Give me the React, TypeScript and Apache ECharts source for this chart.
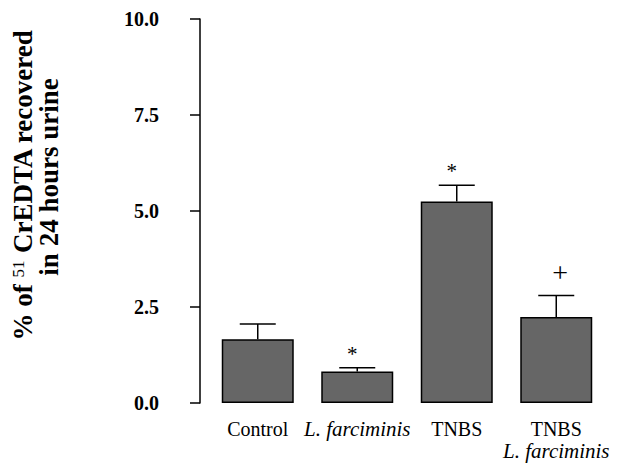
import React, { useEffect, useRef } from "react";
import * as echarts from "echarts";

const categories = ["Control", "L. farciminis", "TNBS", "TNBS\nL. farciminis"];
const means = [1.66, 0.82, 5.25, 2.24];
const errors = [0.4, 0.1, 0.42, 0.56];
const marks = ["", "*", "*", "+"];
const yTicks = [0, 2.5, 5, 7.5, 10];

const SERIF = "Liberation Serif";

export default function App() {
  const ref = useRef<HTMLDivElement>(null);
  useEffect(() => {
    document.body.style.margin = "0";
    if (!ref.current) return;
    const chart = echarts.init(ref.current, null, { renderer: "svg" });
    const errData = means.map((m, i) => [i, m, errors[i]]);
    const option: any = {
      animation: false,
      backgroundColor: "#ffffff",
      grid: { left: 208, right: 15, top: 19, bottom: 60, containLabel: false },
      xAxis: {
        type: "category",
        data: categories,
        axisLine: { show: false },
        axisTick: { show: false },
        axisLabel: {
          margin: 15,
          interval: 0,
          color: "#000",
          fontFamily: SERIF,
          fontSize: 20,
          lineHeight: 22,
          formatter: (v: string) =>
            v
              .split("\n")
              .map((line) => (line.startsWith("L.") ? `{i|${line}}` : `{n|${line}}`))
              .join("\n"),
          rich: {
            n: { fontFamily: SERIF, fontSize: 20, color: "#000", lineHeight: 22 },
            i: { fontFamily: SERIF, fontSize: 21, fontStyle: "italic", color: "#000", lineHeight: 22 },
          },
        },
      },
      yAxis: {
        type: "value",
        min: yTicks[0],
        max: yTicks[yTicks.length - 1],
        interval: 2.5,
        offset: 8,
        axisLine: { show: true, lineStyle: { color: "#000", width: 1.5 } },
        axisTick: { show: true, inside: false, length: 10, lineStyle: { color: "#000", width: 1.5 } },
        splitLine: { show: false },
        axisLabel: {
          margin: 41,
          color: "#000",
          fontFamily: SERIF,
          fontWeight: "bold",
          fontSize: 20,
          formatter: (v: number) => v.toFixed(1),
        },
      },
      series: [
        {
          type: "bar",
          data: means,
          barWidth: 72,
          itemStyle: { color: "#666666", borderColor: "#000", borderWidth: 1.5 },
          z: 2,
        },
        {
          type: "custom",
          data: errData,
          z: 3,
          renderItem: (params: any, api: any) => {
            const i = api.value(0);
            const m = api.value(1);
            const e = api.value(2);
            const base = api.coord([i, m]);
            const top = api.coord([i, m + e]);
            const cap = 18;
            const children: any[] = [
              {
                type: "line",
                shape: { x1: base[0], y1: base[1], x2: top[0], y2: top[1] },
                style: { stroke: "#000", lineWidth: 1.5 },
              },
              {
                type: "line",
                shape: { x1: top[0] - cap, y1: top[1], x2: top[0] + cap, y2: top[1] },
                style: { stroke: "#000", lineWidth: 1.5 },
              },
            ];
            const mk = marks[params.dataIndex];
            if (mk) {
              const isStar = mk === "*";
              children.push({
                type: "text",
                x: top[0] + (isStar ? -5 : 4),
                y: top[1] - (isStar ? 14 : 23),
                style: {
                  text: mk,
                  fontFamily: SERIF,
                  fontSize: isStar ? 21 : 28,
                  fill: "#000",
                  align: "center",
                  verticalAlign: "middle",
                },
              });
            }
            return { type: "group", children };
          },
        },
      ],
      graphic: [
        {
          type: "text",
          x: 23,
          y: 185,
          rotation: Math.PI / 2,
          style: {
            text: "{b|% of }{s|51}{b| CrEDTA recovered}",
            align: "center",
            verticalAlign: "middle",
            rich: {
              b: { fontFamily: SERIF, fontWeight: "bold", fontSize: 27, fill: "#000", lineHeight: 27 },
              s: { fontFamily: SERIF, fontSize: 17, fill: "#000", lineHeight: 27, verticalAlign: "top" },
            },
          },
        },
        {
          type: "text",
          x: 49,
          y: 177,
          rotation: Math.PI / 2,
          style: {
            text: "in 24 hours urine",
            fontFamily: SERIF,
            fontWeight: "bold",
            fontSize: 27,
            fill: "#000",
            align: "center",
            verticalAlign: "middle",
          },
        },
      ],
    };
    chart.setOption(option);
    return () => chart.dispose();
  }, []);
  return <div ref={ref} style={{ width: 621, height: 463 }} />;
}
